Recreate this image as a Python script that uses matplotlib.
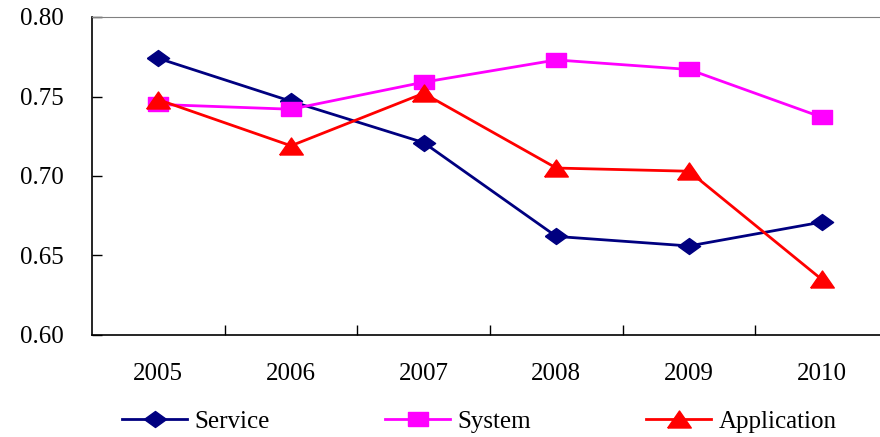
from matplotlib import pyplot as plt
import numpy as np

years = ["2005", "2006", "2007", "2008", "2009", "2010"]
service = [0.774, 0.747, 0.721, 0.662, 0.656, 0.671]
system = [0.745, 0.742, 0.759, 0.773, 0.767, 0.737]
application = [0.748, 0.719, 0.752, 0.705, 0.703, 0.635]

plt.rcParams['font.family'] = ['Liberation Serif', 'DejaVu Serif']
plt.rcParams['font.size'] = 18

# flattened markers like the spreadsheet ones
diamond = [(-1, 0), (0, 0.72), (1, 0), (0, -0.72), (-1, 0)]
rect = [(-1, -0.72), (1, -0.72), (1, 0.72), (-1, 0.72), (-1, -0.72)]
tri = [(-1, -0.72), (1, -0.72), (0, 0.72), (-1, -0.72)]

fig = plt.figure(figsize=(8.8, 4.37), dpi=100)
ax = fig.add_axes([92/880, 102/437, 796/880, 318/437])

x = np.arange(len(years))
ax.plot(x, service, color="#000080", lw=2, marker=diamond, ms=16, label="Service")
ax.plot(x, system, color="#FF00FF", lw=2, marker=rect, ms=14, label="System")
ax.plot(x, application, color="#FF0000", lw=2, marker=tri, ms=17, label="Application")

ax.set_xlim(-0.5, len(years) - 0.5)
ax.set_ylim(0.60, 0.80)
ax.set_yticks([0.60, 0.65, 0.70, 0.75, 0.80])
ax.set_yticklabels(["%.2f" % v for v in [0.60, 0.65, 0.70, 0.75, 0.80]])
ax.set_xticks(x)
ax.set_xticklabels(years)
ax.set_xticks(x[:-1] + 0.5, minor=True)
ax.tick_params(axis="x", which="major", length=0, pad=20)
ax.tick_params(axis="x", which="minor", direction="in", length=7, width=1)
ax.tick_params(axis="y", direction="in", length=7, width=1, pad=20)

ax.spines["right"].set_visible(False)
ax.spines["top"].set_color("#808080")
ax.spines["left"].set_linewidth(1.2)
ax.spines["bottom"].set_linewidth(1.2)

fig.legend(loc="center", bbox_to_anchor=(0.545, 0.035), ncol=3, frameon=False,
           handlelength=2.6, columnspacing=4.6, handletextpad=0.3)

fig.savefig("out.png", dpi=100)
